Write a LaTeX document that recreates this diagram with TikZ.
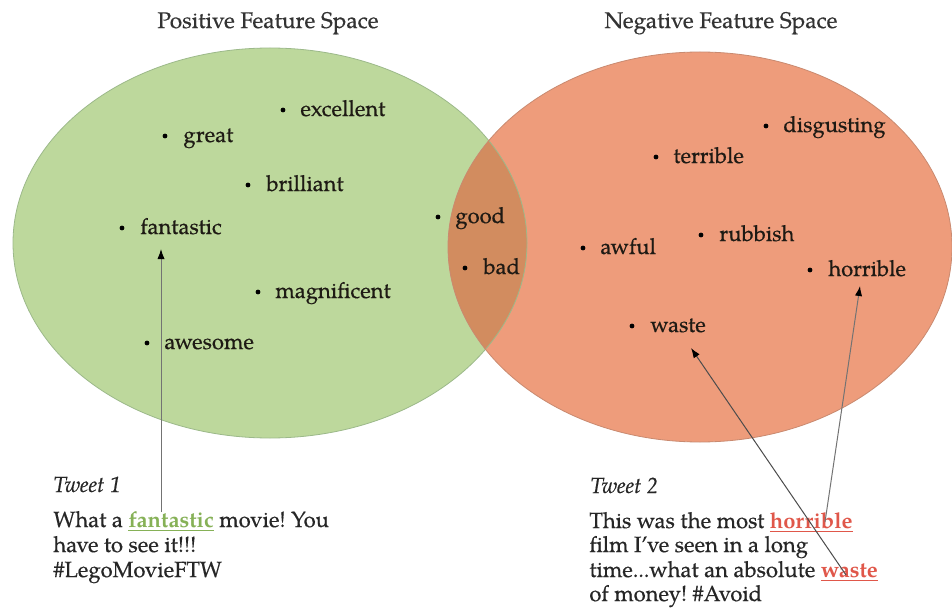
\documentclass[tikz,border=0pt]{standalone}
\usepackage{fontspec}
\setmainfont{texgyrepagella}[Extension=.otf,UprightFont=*-regular,BoldFont=*-bold,ItalicFont=*-italic,BoldItalicFont=*-bolditalic,UprightFeatures={FakeBold=0.5},ItalicFeatures={FakeBold=0.4}]
\usetikzlibrary{arrows.meta}
\definecolor{posfill}{HTML}{BDD89C}
\definecolor{posline}{HTML}{9CB98A}
\definecolor{negfill}{HTML}{EE9C7B}
\definecolor{negline}{HTML}{C98A70}
\definecolor{lensfill}{HTML}{D28C5F}
\definecolor{wordcol}{HTML}{1E1A14}
\definecolor{titlecol}{HTML}{333333}
\definecolor{kwgreen}{HTML}{86B157}
\definecolor{kwred}{HTML}{E0574A}
\newcommand{\kwd}[2]{\textcolor{#1}{\underline{\textbf{#2}}}}
\frenchspacing
\begin{document}
\begin{tikzpicture}[x=0.5pt,y=-0.5pt,
  wordlbl/.style={anchor=base west, inner sep=0pt, text=wordcol, font=\fontsize{11}{13}\selectfont},
  dotmark/.style={circle, fill=black, inner sep=0pt, minimum size=2.4pt},
  titlelbl/.style={anchor=base, inner sep=0pt, text=titlecol, font=\fontsize{11.3}{13}\selectfont},
  tweetlbl/.style={anchor=base west, inner sep=0pt, text=black!85, font=\fontsize{11}{13}\selectfont},
  pointer/.style={draw=black!55, line width=0.5pt, -{Latex[length=5pt,width=3.6pt,black]}}
]
\useasboundingbox (0,0) rectangle (952,609);
\fill[white] (0,0) rectangle (952,609);
% ellipses
\fill[posfill] (270,243) ellipse [x radius=128.5pt, y radius=97.5pt];
\fill[negfill] (700,247) ellipse [x radius=126pt, y radius=97.5pt];
\begin{scope}
  \clip (270,243) ellipse [x radius=128.5pt, y radius=97.5pt];
  \fill[lensfill] (700,247) ellipse [x radius=126pt, y radius=97.5pt];
\end{scope}
\draw[posline, line width=0.4pt] (270,243) ellipse [x radius=128.5pt, y radius=97.5pt];
\draw[negline, line width=0.4pt] (700,247) ellipse [x radius=126pt, y radius=97.5pt];
% titles
\node[titlelbl] (ptitle) at (268,28) {Positive Feature Space};
\node[titlelbl] (ntitle) at (721,28) {Negative Feature Space};
% positive words
\node[dotmark] (d-excellent) at (283,110) {};
\node[wordlbl] (excellent) at (300,116) {excellent};
\node[dotmark] (d-great) at (165,136) {};
\node[wordlbl] (great) at (183,142) {great};
\node[dotmark] (d-brilliant) at (248,185) {};
\node[wordlbl] (brilliant) at (266,191) {brilliant};
\node[dotmark] (d-fantastic) at (122,228) {};
\node[wordlbl] (fantastic) at (140,234) {fantastic};
\node[dotmark] (d-magnificent) at (258,292) {};
\node[wordlbl] (magnificent) at (275,298) {magnificent};
\node[dotmark] (d-awesome) at (147,343) {};
\node[wordlbl] (awesome) at (164,349) {awesome};
% shared words
\node[dotmark] (d-good) at (438,217) {};
\node[wordlbl] (good) at (455,223) {good};
\node[dotmark] (d-bad) at (465,268) {};
\node[wordlbl] (bad) at (483,274) {bad};
% negative words
\node[dotmark] (d-disgusting) at (766,126) {};
\node[wordlbl] (disgusting) at (783,132) {disgusting};
\node[dotmark] (d-terrible) at (656,157) {};
\node[wordlbl] (terrible) at (673,163) {terrible};
\node[dotmark] (d-rubbish) at (701,235) {};
\node[wordlbl] (rubbish) at (719,241) {rubbish};
\node[dotmark] (d-awful) at (583,248) {};
\node[wordlbl] (awful) at (600,254) {awful};
\node[dotmark] (d-horrible) at (810,270) {};
\node[wordlbl] (horrible) at (828,276) {horrible};
\node[dotmark] (d-waste) at (632,326) {};
\node[wordlbl] (waste) at (650,332) {waste};
% tweet 1
\node[tweetlbl, font=\fontsize{11}{13}\selectfont\itshape] (tw1head) at (53,492) {Tweet 1};
\node[tweetlbl] (tw1a) at (53,527) {What a \kwd{kwgreen}{fantastic} movie! You};
\node[tweetlbl] (tw1b) at (53,552) {have to see it!!!};
\node[tweetlbl] (tw1c) at (53,577) {\#LegoMovieFTW};
% tweet 2
\node[tweetlbl, font=\fontsize{11}{13}\selectfont\itshape] (tw2head) at (590,493) {Tweet 2};
\node[tweetlbl] (tw2a) at (589,528) {This was the most \kwd{kwred}{horrible}};
\node[tweetlbl] (tw2b) at (589,552) {film I've seen in a long};
\node[tweetlbl] (tw2c) at (589,577) {time...what an absolute \kwd{kwred}{waste}};
\node[tweetlbl] (tw2d) at (589,601) {of money! \#Avoid};
% connectors
\coordinate (src-fantastic) at (161,512);
\coordinate (tip-fantastic) at (161,249);
\coordinate (src-horrible) at (825,522);
\coordinate (tip-horrible) at (860,286);
\coordinate (src-waste) at (846,575);
\coordinate (tip-waste) at (691,348);
\draw[pointer] (src-fantastic) -- (tip-fantastic);
\draw[pointer] (src-horrible) -- (tip-horrible);
\draw[pointer, draw=black!70] (src-waste) -- (tip-waste);
\end{tikzpicture}
\end{document}
